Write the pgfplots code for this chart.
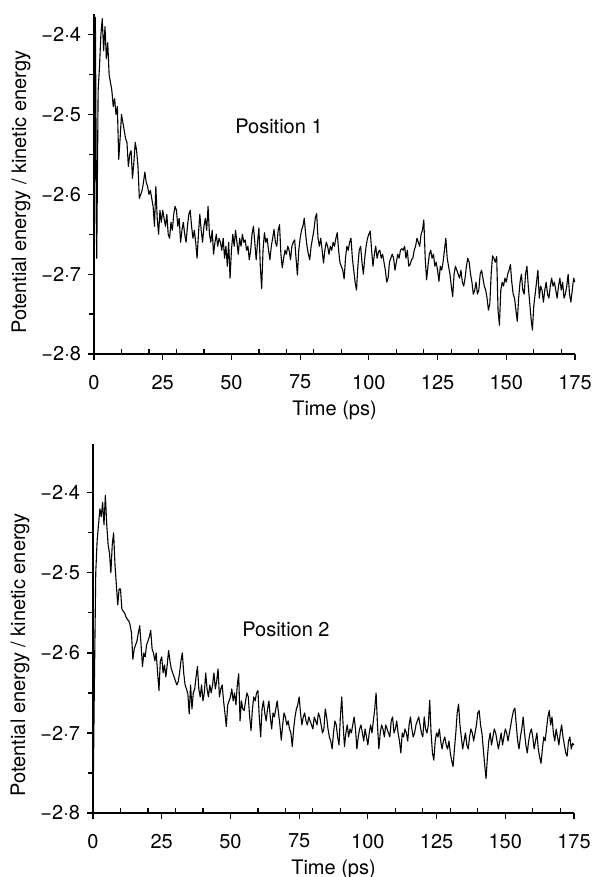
\documentclass[border=0pt]{standalone}
\usepackage{fontspec}
\setmainfont{TeX Gyre Heros}
\usepackage{pgfplots}
\pgfplotsset{compat=1.18}

\pgfplotsset{
  posplot/.style={
    scale only axis, width=240.5pt,
    xmin=0, xmax=175, ymin=-2.8,
    axis x line*=bottom, axis y line*=left,
    axis line style={line width=0.7pt},
    xtick={0,25,...,175},
    xticklabels={0,25,50,75,100,125,150,175},
    ytick={-2.8,-2.7,-2.6,-2.5,-2.4},
    yticklabels={−2·8,−2·7,−2·6,−2·5,−2·4},
    minor ytick={-2.75,-2.65,-2.55,-2.45},
    tick align=outside, major tick length=3pt, minor tick length=2.5pt,
    extra x ticks={10,20,30,40,60,70,80,90,110,120,130,140,160,170},
    extra x tick labels={},
    extra x tick style={tick align=inside, major tick length=2.5pt},
    tick style={black, line width=0.6pt},
    xticklabel style={yshift=-4pt},
    xlabel={Time (ps)},
    ylabel={Potential energy / kinetic energy},
    xlabel style={at={(rel axis cs:0.5,0)}, anchor=center, yshift=-28pt},
  },
  trace/.style={black, line width=0.55pt, line join=round, mark=none},
}

\begin{document}
\begin{tikzpicture}
\path[use as bounding box] (-47pt,-261.5pt) rectangle (251pt,177pt);

% Position 1
\begin{axis}[posplot, at={(0pt,0pt)}, anchor=south west,
    height=170pt, ymax=-2.374,
    ylabel style={at={(rel axis cs:-0.152,0.476)}, anchor=center}]
\addplot[trace] coordinates {
(0,-2.80)(0.5,-2.378)(1,-2.68)(1.5,-2.47)(2,-2.44)(2.5,-2.40)(3,-2.38)(3.5,-2.42)(4,-2.39)(4.5,-2.43)
(5,-2.41)(5.5,-2.45)(6,-2.46)(6.5,-2.47)(7,-2.49)(7.5,-2.48)(8,-2.50)(8.5,-2.49)(9,-2.556)(9.5,-2.53)
(10,-2.50)(10.5,-2.51)(11,-2.52)(11.5,-2.53)(12,-2.535)(12.5,-2.565)(13,-2.55)(13.5,-2.545)(14,-2.58)(14.5,-2.56)
(15,-2.535)(15.5,-2.545)(16,-2.565)(16.5,-2.605)(17,-2.60)(17.5,-2.595)(18,-2.585)(18.5,-2.572)(19,-2.585)(19.5,-2.59)
(20,-2.60)(20.5,-2.595)(21,-2.605)(21.5,-2.615)(22,-2.64)(22.5,-2.59)(23,-2.63)(23.5,-2.65)(24,-2.62)(24.5,-2.635)
(25,-2.62)(25.5,-2.63)(26,-2.64)(26.5,-2.625)(27,-2.65)(27.5,-2.655)(28,-2.635)(28.5,-2.645)(29,-2.625)(29.5,-2.615)
(30,-2.62)(30.5,-2.64)(31,-2.63)(31.5,-2.66)(32,-2.645)(32.5,-2.635)(33,-2.65)(33.5,-2.66)(34,-2.64)(34.5,-2.625)
(35,-2.62)(35.5,-2.64)(36,-2.655)(36.5,-2.645)(37,-2.66)(37.5,-2.68)(38,-2.65)(38.5,-2.625)(39,-2.645)(39.5,-2.66)
(40,-2.64)(40.5,-2.63)(41,-2.645)(41.5,-2.615)(42,-2.65)(42.5,-2.66)(43,-2.645)(43.5,-2.675)(44,-2.66)(44.5,-2.65)
(45,-2.665)(45.5,-2.655)(46,-2.66)(46.5,-2.67)(47,-2.655)(47.5,-2.68)(48,-2.665)(48.5,-2.69)(49,-2.66)(49.5,-2.705)
(50,-2.67)(50.5,-2.65)(51,-2.665)(51.5,-2.645)(52,-2.66)(52.5,-2.675)(53,-2.655)(53.5,-2.665)(54,-2.65)(54.5,-2.66)
(55,-2.657)(55.5,-2.67)(56,-2.665)(56.5,-2.682)(57,-2.67)(57.5,-2.65)(58,-2.64)(58.5,-2.66)(59,-2.682)(59.5,-2.66)
(60,-2.642)(60.5,-2.69)(61,-2.718)(61.5,-2.67)(62,-2.648)(62.5,-2.66)(63,-2.655)(63.5,-2.67)(64,-2.682)(64.5,-2.665)
(65,-2.655)(65.5,-2.644)(66,-2.66)(66.5,-2.665)(67,-2.645)(67.5,-2.638)(68,-2.675)(68.5,-2.692)(69,-2.68)(69.5,-2.67)
(70,-2.675)(70.5,-2.665)(71,-2.67)(71.5,-2.682)(72,-2.665)(72.5,-2.66)(73,-2.657)(73.5,-2.68)(74,-2.701)(74.5,-2.67)
(75,-2.655)(75.5,-2.645)(76,-2.64)(76.5,-2.63)(77,-2.65)(77.5,-2.665)(78,-2.675)(78.5,-2.682)(79,-2.665)(79.5,-2.655)
(80,-2.645)(80.5,-2.63)(81,-2.624)(81.5,-2.655)(82,-2.665)(82.5,-2.655)(83,-2.67)(83.5,-2.686)(84,-2.67)(84.5,-2.66)
(85,-2.665)(85.5,-2.675)(86,-2.665)(86.5,-2.67)(87,-2.66)(87.5,-2.665)(88,-2.655)(88.5,-2.648)(89,-2.67)(89.5,-2.686)
(90,-2.69)(90.5,-2.695)(91,-2.706)(91.5,-2.68)(92,-2.665)(92.5,-2.67)(93,-2.66)(93.5,-2.655)(94,-2.68)(94.5,-2.695)
(95,-2.71)(95.5,-2.72)(96,-2.69)(96.5,-2.67)(97,-2.665)(97.5,-2.685)(98,-2.70)(98.5,-2.68)(99,-2.665)(99.5,-2.655)
(100,-2.65)(100.5,-2.646)(101,-2.67)(101.5,-2.69)(102,-2.675)(102.5,-2.665)(103,-2.68)(103.5,-2.672)(104,-2.67)(104.5,-2.68)
(105,-2.675)(105.5,-2.685)(106,-2.695)(106.5,-2.71)(107,-2.705)(107.5,-2.685)(108,-2.68)(108.5,-2.675)(109,-2.68)(109.5,-2.695)
(110,-2.685)(110.5,-2.675)(111,-2.68)(111.5,-2.67)(112,-2.668)(112.5,-2.67)(113,-2.665)(113.5,-2.68)(114,-2.67)(114.5,-2.69)
(115,-2.688)(115.5,-2.682)(116,-2.68)(116.5,-2.67)(117,-2.665)(117.5,-2.655)(118,-2.66)(118.5,-2.665)(119,-2.65)(119.5,-2.645)
(120,-2.632)(120.5,-2.68)(121,-2.707)(121.5,-2.69)(122,-2.675)(122.5,-2.67)(123,-2.68)(123.5,-2.675)(124,-2.69)(124.5,-2.685)
(125,-2.695)(125.5,-2.709)(126,-2.69)(126.5,-2.695)(127,-2.685)(127.5,-2.67)(128,-2.655)(128.5,-2.68)(129,-2.69)(129.5,-2.70)
(130,-2.715)(130.5,-2.728)(131,-2.70)(131.5,-2.69)(132,-2.695)(132.5,-2.70)(133,-2.705)(133.5,-2.695)(134,-2.71)(134.5,-2.715)
(135,-2.705)(135.5,-2.69)(136,-2.68)(136.5,-2.685)(137,-2.70)(137.5,-2.71)(138,-2.725)(138.5,-2.72)(139,-2.71)(139.5,-2.725)
(140,-2.72)(140.5,-2.70)(141,-2.695)(141.5,-2.705)(142,-2.715)(142.5,-2.72)(143,-2.73)(143.5,-2.745)(144,-2.737)(144.5,-2.70)
(145,-2.677)(145.5,-2.68)(146,-2.685)(146.5,-2.678)(147,-2.745)(147.5,-2.764)(148,-2.72)(148.5,-2.71)(149,-2.715)(149.5,-2.705)
(150,-2.71)(150.5,-2.70)(151,-2.695)(151.5,-2.688)(152,-2.71)(152.5,-2.725)(153,-2.73)(153.5,-2.745)(154,-2.759)(154.5,-2.73)
(155,-2.71)(155.5,-2.70)(156,-2.72)(156.5,-2.725)(157,-2.70)(157.5,-2.69)(158,-2.715)(158.5,-2.735)(159,-2.755)(159.5,-2.77)
(160,-2.74)(160.5,-2.725)(161,-2.71)(161.5,-2.695)(162,-2.73)(162.5,-2.715)(163,-2.72)(163.5,-2.735)(164,-2.72)(164.5,-2.71)
(165,-2.725)(165.5,-2.73)(166,-2.715)(166.5,-2.705)(167,-2.715)(167.5,-2.71)(168,-2.72)(168.5,-2.73)(169,-2.715)(169.5,-2.705)
(170,-2.72)(170.5,-2.71)(171,-2.73)(171.5,-2.725)(172,-2.715)(172.5,-2.70)(173,-2.725)(173.5,-2.735)(174,-2.72)(174.5,-2.705)
(175,-2.71)
};
\node at (axis cs:67.3,-2.515) {Position 1};
\end{axis}

% Position 2
\begin{axis}[posplot, at={(-0.5pt,-229.5pt)}, anchor=south west,
    height=184.5pt, ymax=-2.339,
    ylabel style={at={(rel axis cs:-0.152,0.429)}, anchor=center}]
\addplot[trace] coordinates {
(0,-2.80)(0.5,-2.64)(1,-2.50)(1.5,-2.46)(2,-2.44)(2.5,-2.42)(3,-2.43)(3.5,-2.412)(4,-2.44)(4.5,-2.403)
(5,-2.44)(5.5,-2.465)(6,-2.475)(6.5,-2.50)(7,-2.465)(7.5,-2.45)(8,-2.49)(8.5,-2.515)(9,-2.54)(9.5,-2.52)
(10,-2.52)(10.5,-2.545)(11,-2.548)(11.5,-2.55)(12,-2.555)(12.5,-2.558)(13,-2.56)(13.5,-2.565)(14,-2.575)(14.5,-2.608)
(15,-2.595)(15.5,-2.59)(16,-2.585)(16.5,-2.575)(17,-2.566)(17.5,-2.59)(18,-2.617)(18.5,-2.60)(19,-2.605)(19.5,-2.59)
(20,-2.585)(20.5,-2.58)(21,-2.572)(21.5,-2.595)(22,-2.60)(22.5,-2.61)(23,-2.60)(23.5,-2.625)(24,-2.647)(24.5,-2.61)
(25,-2.605)(25.5,-2.625)(26,-2.615)(26.5,-2.63)(27,-2.615)(27.5,-2.597)(28,-2.61)(28.5,-2.62)(29,-2.625)(29.5,-2.63)
(30,-2.635)(30.5,-2.64)(31,-2.636)(31.5,-2.625)(32,-2.61)(32.5,-2.60)(33,-2.625)(33.5,-2.64)(34,-2.645)(34.5,-2.651)
(35,-2.676)(35.5,-2.64)(36,-2.67)(36.5,-2.65)(37,-2.645)(37.5,-2.63)(38,-2.617)(38.5,-2.645)(39,-2.655)(39.5,-2.64)
(40,-2.66)(40.5,-2.65)(41,-2.625)(41.5,-2.645)(42,-2.655)(42.5,-2.64)(43,-2.65)(43.5,-2.64)(44,-2.625)(44.5,-2.645)
(45,-2.635)(45.5,-2.62)(46,-2.655)(46.5,-2.645)(47,-2.64)(47.5,-2.66)(48,-2.675)(48.5,-2.692)(49,-2.665)(49.5,-2.66)
(50,-2.655)(50.5,-2.645)(51,-2.66)(51.5,-2.65)(52,-2.665)(52.5,-2.64)(53,-2.626)(53.5,-2.685)(54,-2.66)(54.5,-2.67)
(55,-2.672)(55.5,-2.66)(56,-2.65)(56.5,-2.655)(57,-2.68)(57.5,-2.697)(58,-2.67)(58.5,-2.655)(59,-2.66)(59.5,-2.65)
(60,-2.647)(60.5,-2.68)(61,-2.705)(61.5,-2.67)(62,-2.66)(62.5,-2.675)(63,-2.685)(63.5,-2.67)(64,-2.66)(64.5,-2.68)
(65,-2.695)(65.5,-2.675)(66,-2.68)(66.5,-2.67)(67,-2.66)(67.5,-2.675)(68,-2.69)(68.5,-2.709)(69,-2.69)(69.5,-2.675)
(70,-2.68)(70.5,-2.69)(71,-2.685)(71.5,-2.695)(72,-2.70)(72.5,-2.717)(73,-2.695)(73.5,-2.68)(74,-2.67)(74.5,-2.665)
(75,-2.655)(75.5,-2.675)(76,-2.69)(76.5,-2.68)(77,-2.675)(77.5,-2.685)(78,-2.69)(78.5,-2.68)(79,-2.685)(79.5,-2.69)
(80,-2.695)(80.5,-2.68)(81,-2.685)(81.5,-2.69)(82,-2.675)(82.5,-2.68)(83,-2.69)(83.5,-2.70)(84,-2.695)(84.5,-2.67)
(85,-2.68)(85.5,-2.695)(86,-2.705)(86.5,-2.71)(87,-2.72)(87.5,-2.70)(88,-2.685)(88.5,-2.69)(89,-2.705)(89.5,-2.715)
(90,-2.68)(90.5,-2.655)(91,-2.69)(91.5,-2.717)(92,-2.70)(92.5,-2.69)(93,-2.705)(93.5,-2.695)(94,-2.70)(94.5,-2.69)
(95,-2.68)(95.5,-2.695)(96,-2.72)(96.5,-2.705)(97,-2.695)(97.5,-2.69)(98,-2.70)(98.5,-2.71)(99,-2.695)(99.5,-2.705)
(100,-2.715)(100.5,-2.70)(101,-2.69)(101.5,-2.70)(102,-2.685)(102.5,-2.67)(103,-2.65)(103.5,-2.69)(104,-2.72)(104.5,-2.70)
(105,-2.69)(105.5,-2.695)(106,-2.705)(106.5,-2.69)(107,-2.695)(107.5,-2.70)(108,-2.705)(108.5,-2.685)(109,-2.68)(109.5,-2.70)
(110,-2.695)(110.5,-2.685)(111,-2.70)(111.5,-2.71)(112,-2.725)(112.5,-2.70)(113,-2.705)(113.5,-2.695)(114,-2.70)(114.5,-2.71)
(115,-2.69)(115.5,-2.68)(116,-2.695)(116.5,-2.705)(117,-2.70)(117.5,-2.69)(118,-2.685)(118.5,-2.68)(119,-2.69)(119.5,-2.70)
(120,-2.705)(120.5,-2.68)(121,-2.695)(121.5,-2.70)(122,-2.69)(122.5,-2.659)(123,-2.70)(123.5,-2.725)(124,-2.734)(124.5,-2.71)
(125,-2.70)(125.5,-2.705)(126,-2.695)(126.5,-2.71)(127,-2.72)(127.5,-2.71)(128,-2.705)(128.5,-2.715)(129,-2.72)(129.5,-2.71)
(130,-2.725)(130.5,-2.735)(131,-2.742)(131.5,-2.72)(132,-2.70)(132.5,-2.675)(133,-2.664)(133.5,-2.69)(134,-2.705)(134.5,-2.72)
(135,-2.71)(135.5,-2.70)(136,-2.715)(136.5,-2.72)(137,-2.705)(137.5,-2.695)(138,-2.70)(138.5,-2.71)(139,-2.70)(139.5,-2.69)
(140,-2.675)(140.5,-2.672)(141,-2.69)(141.5,-2.70)(142,-2.72)(142.5,-2.74)(143,-2.757)(143.5,-2.73)(144,-2.71)(144.5,-2.70)
(145,-2.715)(145.5,-2.705)(146,-2.695)(146.5,-2.70)(147,-2.71)(147.5,-2.72)(148,-2.71)(148.5,-2.70)(149,-2.715)(149.5,-2.705)
(150,-2.695)(150.5,-2.70)(151,-2.71)(151.5,-2.70)(152,-2.69)(152.5,-2.68)(153,-2.672)(153.5,-2.669)(154,-2.69)(154.5,-2.71)
(155,-2.72)(155.5,-2.705)(156,-2.695)(156.5,-2.68)(157,-2.70)(157.5,-2.715)(158,-2.725)(158.5,-2.71)(159,-2.70)(159.5,-2.695)
(160,-2.705)(160.5,-2.72)(161,-2.71)(161.5,-2.70)(162,-2.72)(162.5,-2.73)(163,-2.738)(163.5,-2.72)(164,-2.705)(164.5,-2.71)
(165,-2.695)(165.5,-2.68)(166,-2.672)(166.5,-2.69)(167,-2.68)(167.5,-2.70)(168,-2.71)(168.5,-2.695)(169,-2.705)(169.5,-2.715)
(170,-2.70)(170.5,-2.69)(171,-2.705)(171.5,-2.715)(172,-2.725)(172.5,-2.729)(173,-2.71)(173.5,-2.705)(174,-2.72)(174.5,-2.713)
(175,-2.715)
};
\node at (axis cs:70.2,-2.570) {Position 2};
\end{axis}
\end{tikzpicture}
\end{document}
